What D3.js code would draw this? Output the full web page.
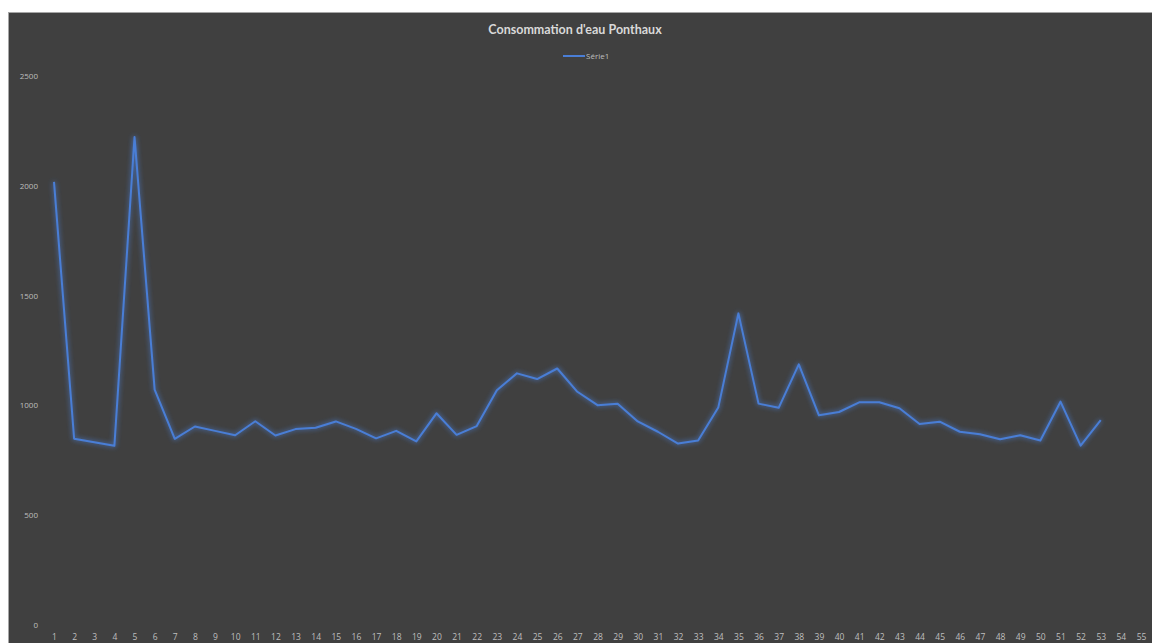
<!DOCTYPE html>
<html>
<meta charset="utf-8">
<title>Consommation d'eau Ponthaux</title>
<style>
	body {
		margin: 0;
		background: #fff;
		font-family: "Open Sans", sans-serif;
	}

	.title {
		font: bold 12.5px Lato, "Open Sans", sans-serif;
		fill: #d9d9d9;
	}

	.tick text, .legend text {
		font: 8px "Open Sans", sans-serif;
		fill: #bfbfbf;
	}

	.x .tick text {
		font-size: 8.5px;
	}

	.line {
		fill: none;
		stroke: #4a7ed6;
		stroke-width: 2;
		stroke-linejoin: round;
	}
</style>

<body>
	<script src="https://cdnjs.cloudflare.com/ajax/libs/d3/7.8.5/d3.min.js"></script>
	<script>
		var title = "Consommation d'eau Ponthaux";
		var seriesName = "Série1";

		// week numbers shown on the axis (1..55), the series stops at 53
		var categories = [1, 2, 3, 4, 5, 6, 7, 8, 9, 10, 11, 12, 13, 14, 15, 16, 17, 18, 19, 20,
			21, 22, 23, 24, 25, 26, 27, 28, 29, 30, 31, 32, 33, 34, 35, 36, 37, 38, 39, 40,
			41, 42, 43, 44, 45, 46, 47, 48, 49, 50, 51, 52, 53, 54, 55];

		var values = [2018, 848, 832, 816, 2222, 1072, 848, 904, 884, 864, 928, 863, 892, 898, 927,
			893, 850, 884, 836, 964, 866, 906, 1069, 1146, 1120, 1168, 1062, 1001, 1008, 927,
			880, 826, 840, 990, 1419, 1008, 989, 1187, 955, 970, 1014, 1014, 987, 915, 926,
			880, 869, 846, 864, 840, 1017, 817, 933];

		var yTicks = [0, 500, 1000, 1500, 2000, 2500];

		var W = 1152, H = 643;

		var svg = d3.select("body").append("svg")
			.attr("width", W)
			.attr("height", H);

		// glow filter
		var defs = svg.append("defs");
		var glow = defs.append("filter").attr("id", "glow")
			.attr("x", "-10%").attr("y", "-10%").attr("width", "120%").attr("height", "120%");
		glow.append("feGaussianBlur").attr("in", "SourceGraphic").attr("stdDeviation", 2.5).attr("result", "b");
		var merge = glow.append("feMerge");
		merge.append("feMergeNode").attr("in", "b");
		merge.append("feMergeNode").attr("in", "SourceGraphic");

		// chart area (runs off the right and bottom edges)
		svg.append("rect")
			.attr("x", 8.5).attr("y", 12.5)
			.attr("width", W).attr("height", H)
			.attr("fill", "#404040")
			.attr("stroke", "#a6a6a6")
			.attr("stroke-width", 1);

		var x = d3.scalePoint()
			.domain(categories)
			.range([54, 1141]);

		var y = d3.scaleLinear()
			.domain([0, 2500])
			.range([625, 76]);

		svg.append("text")
			.attr("class", "title")
			.attr("x", 575).attr("y", 34)
			.attr("text-anchor", "middle")
			.text(title);

		var legend = svg.append("g").attr("class", "legend");
		legend.append("line")
			.attr("x1", 563).attr("x2", 585)
			.attr("y1", 56).attr("y2", 56)
			.attr("stroke", "#4a7ed6").attr("stroke-width", 2);
		legend.append("text")
			.attr("x", 586).attr("y", 59)
			.text(seriesName);

		var yAxis = svg.append("g")
			.attr("transform", "translate(38,0)")
			.call(d3.axisLeft(y).tickValues(yTicks).tickFormat(d3.format("d")).tickSize(0).tickPadding(0));
		yAxis.select(".domain").remove();

		var xAxis = svg.append("g")
			.attr("class", "x")
			.attr("transform", "translate(0,628)")
			.call(d3.axisBottom(x).tickSize(0).tickPadding(6));
		xAxis.select(".domain").remove();

		var line = d3.line()
			.x(function (d, i) { return x(categories[i]); })
			.y(function (d) { return y(d); });

		svg.append("path")
			.datum(values)
			.attr("class", "line")
			.attr("filter", "url(#glow)")
			.attr("d", line);
	</script>
</body>
</html>
